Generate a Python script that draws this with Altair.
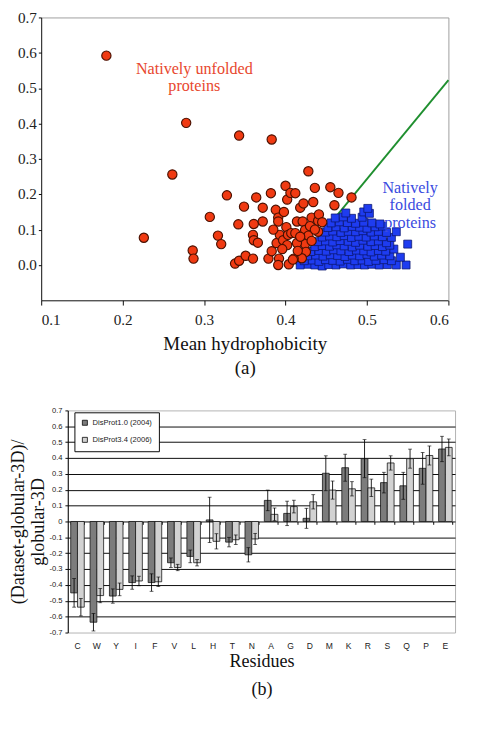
import altair as alt
import pandas as pd

# ---------------- panel (a) data ----------------
unf_x = [0.180, 0.278, 0.343, 0.383, 0.261, 0.428,
         0.226, 0.286, 0.287, 0.307, 0.328, 0.317, 0.321,
         0.342, 0.338, 0.343, 0.349, 0.351, 0.360, 0.364,
         0.361, 0.360, 0.361, 0.366, 0.372, 0.372, 0.379,
         0.382, 0.383, 0.388, 0.391, 0.391, 0.389, 0.392,
         0.391, 0.393, 0.397, 0.400, 0.402, 0.401, 0.403,
         0.402, 0.404, 0.406, 0.412, 0.407, 0.412, 0.414,
         0.418, 0.422, 0.421, 0.424, 0.428, 0.424, 0.425,
         0.420, 0.410, 0.434, 0.436, 0.432, 0.440, 0.441,
         0.445, 0.440, 0.455, 0.465, 0.460, 0.481, 0.432,
         0.414, 0.409, 0.396, 0.415, 0.418, 0.430, 0.385, 0.398, 0.436]
unf_y = [0.592, 0.402, 0.366, 0.355, 0.256, 0.265,
         0.077, 0.041, 0.018, 0.136, 0.197, 0.083, 0.059,
         0.115, 0.004, 0.012, 0.165, 0.026, 0.018, 0.191,
         0.116, 0.085, 0.070, 0.063, 0.162, 0.123, 0.018,
         0.203, 0.039, 0.156, 0.134, 0.123, 0.062, 0.018,
         0.000, 0.085, 0.070, 0.224, 0.185, 0.107, 0.085,
         0.056, 0.002, 0.204, 0.203, 0.090, 0.090, 0.123,
         0.162, 0.174, 0.123, 0.099, 0.083, 0.059, 0.037,
         0.019, 0.018, 0.178, 0.218, 0.134, 0.125, 0.143,
         0.121, 0.094, 0.220, 0.204, 0.169, 0.191, 0.068,
         0.062, 0.015, 0.045, 0.040, 0.080, 0.110, 0.100, 0.150, 0.100]

fold_x = [0.418, 0.428, 0.436, 0.445, 0.453, 0.462, 0.471, 0.480, 0.489, 0.497, 0.506, 0.515, 0.525, 0.536, 0.548,
          0.423, 0.433, 0.441, 0.449, 0.458, 0.467, 0.476, 0.485, 0.494, 0.502, 0.511, 0.521, 0.530, 0.541,
          0.427, 0.437, 0.446, 0.455, 0.464, 0.473, 0.482, 0.491, 0.500, 0.509, 0.518, 0.528,
          0.431, 0.441, 0.450, 0.459, 0.468, 0.478, 0.487, 0.496, 0.505, 0.514, 0.523, 0.533,
          0.436, 0.445, 0.454, 0.463, 0.472, 0.482, 0.491, 0.501, 0.510, 0.519, 0.528,
          0.440, 0.449, 0.458, 0.467, 0.477, 0.486, 0.495, 0.505, 0.514, 0.524, 0.550,
          0.445, 0.454, 0.463, 0.472, 0.481, 0.490, 0.499, 0.509, 0.519, 0.530,
          0.449, 0.458, 0.468, 0.477, 0.486, 0.495, 0.505, 0.514, 0.524, 0.536,
          0.452, 0.462, 0.472, 0.482, 0.491, 0.500, 0.510, 0.519,
          0.456, 0.466, 0.476, 0.486, 0.496, 0.506, 0.516,
          0.461, 0.471, 0.481, 0.494,
          0.474, 0.496, 0.503,
          0.501]
fold_y = [0.000, 0.002, 0.000, -0.003, 0.001, 0.000, 0.003, 0.000, 0.001, 0.000, 0.002, 0.000, 0.001, 0.000, 0.000,
          0.012, 0.014, 0.010, 0.015, 0.013, 0.011, 0.016, 0.012, 0.014, 0.010, 0.013, 0.015, 0.012, 0.022,
          0.026, 0.028, 0.025, 0.029, 0.027, 0.024, 0.028, 0.026, 0.030, 0.025, 0.028, 0.026,
          0.038, 0.041, 0.039, 0.043, 0.040, 0.038, 0.042, 0.040, 0.037, 0.041, 0.039, 0.045,
          0.052, 0.055, 0.053, 0.057, 0.054, 0.051, 0.056, 0.053, 0.055, 0.052, 0.056,
          0.066, 0.068, 0.065, 0.069, 0.067, 0.064, 0.070, 0.066, 0.068, 0.063, 0.059,
          0.079, 0.082, 0.080, 0.083, 0.078, 0.081, 0.079, 0.082, 0.080, 0.078,
          0.093, 0.096, 0.092, 0.095, 0.094, 0.097, 0.093, 0.095, 0.092, 0.094,
          0.106, 0.108, 0.105, 0.109, 0.107, 0.104, 0.108, 0.110,
          0.119, 0.122, 0.120, 0.118, 0.121, 0.119, 0.116,
          0.133, 0.136, 0.132, 0.135,
          0.147, 0.150, 0.146,
          0.160]

line_x = [0.413, 0.600]
line_y = [0.000, 0.523]

x_ticks_a = [0.1, 0.2, 0.3, 0.4, 0.5, 0.6]
y_ticks_a = [0.0, 0.1, 0.2, 0.3, 0.4, 0.5, 0.6, 0.7]

ann_text = ["Natively unfolded\nproteins", "Natively\nfolded\nproteins"]
ann_x = [0.288, 0.553]
ann_y = [0.553, 0.216]
ann_color = ["#e8472e", "#3a4be0"]

# ---------------- panel (b) data ----------------
residues = ["C", "W", "Y", "I", "F", "V", "L", "H", "T", "N",
            "A", "G", "D", "M", "K", "R", "S", "Q", "P", "E"]
series_names = ["DisProt1.0 (2004)", "DisProt3.4 (2006)"]
dp10 = [-0.45, -0.635, -0.47, -0.385, -0.385, -0.26, -0.22, 0.01, -0.13, -0.21,
        0.133, 0.051, 0.02, 0.304, 0.339, 0.396, 0.245, 0.225, 0.335, 0.457]
dp10_err = [0.09, 0.055, 0.045, 0.042, 0.055, 0.03, 0.04, 0.143, 0.03, 0.045,
            0.065, 0.077, 0.063, 0.11, 0.085, 0.12, 0.065, 0.085, 0.10, 0.08]
dp34 = [-0.54, -0.467, -0.428, -0.375, -0.38, -0.29, -0.26, -0.125, -0.115, -0.11,
        0.045, 0.094, 0.124, 0.198, 0.206, 0.212, 0.369, 0.396, 0.416, 0.467]
dp34_err = [0.055, 0.045, 0.04, 0.03, 0.03, 0.02, 0.02, 0.048, 0.03, 0.035,
            0.04, 0.04, 0.045, 0.057, 0.045, 0.055, 0.045, 0.06, 0.06, 0.053]
y_ticks_b = [-0.7, -0.6, -0.5, -0.4, -0.3, -0.2, -0.1, 0.0, 0.1, 0.2, 0.3, 0.4, 0.5, 0.6, 0.7]

# ---------------- tables ----------------
df_unf = pd.DataFrame({"x": unf_x, "y": unf_y})
df_fold = pd.DataFrame({"x": fold_x, "y": fold_y})
df_line = pd.DataFrame({"x": line_x, "y": line_y})
df_ann = pd.DataFrame({"x": ann_x, "y": ann_y, "t": ann_text, "c": ann_color})

rows = []
for i, r in enumerate(residues):
    rows.append({"res": r, "series": series_names[0], "v": dp10[i],
                 "lo": dp10[i] - dp10_err[i], "hi": dp10[i] + dp10_err[i]})
    rows.append({"res": r, "series": series_names[1], "v": dp34[i],
                 "lo": dp34[i] - dp34_err[i], "hi": dp34[i] + dp34_err[i]})
df_b = pd.DataFrame(rows)

SERIF = "Liberation Serif"
NARROW = "Liberation Sans Narrow, Liberation Sans, Arial"

# ---------------- panel (a) ----------------
# the panel's plot frame starts 28px left of the lower panel's frame
SHIFT = 28
W_A = 401
xs = alt.Scale(domain=[0.1, 0.6], nice=False, zero=False, range=[-SHIFT, W_A])
ys = alt.Scale(domain=[-0.1, 0.7], nice=False, zero=False)

ax_x = alt.Axis(values=x_ticks_a, tickCount=6, format=".1f", grid=False, domainColor="black",
                tickColor="black", tickSize=5, labelFont=SERIF, labelFontSize=16,
                labelColor="#222", labelPadding=7,
                title=["Mean hydrophobicity", "(a)"], titleFont=SERIF, titleFontSize=20,
                titleFontWeight="normal", titleColor="#111", titleLineHeight=25, titlePadding=8)
ax_y = alt.Axis(values=y_ticks_a, tickCount=8, format=".1f", grid=False, domainColor="black",
                tickColor="black", tickSize=3, labelFont=SERIF, labelFontSize=16,
                labelColor="#222", labelPadding=2, title=None, offset=SHIFT)
ax_top = alt.Axis(orient="top", labels=False, ticks=False, grid=False, domainColor="#9a9a9a",
                  title=None, minExtent=0, maxExtent=0)
ax_right = alt.Axis(orient="right", labels=False, ticks=False, grid=False, domainColor="#9a9a9a",
                    title=None, minExtent=0, maxExtent=0)

green = alt.Chart(df_line).mark_line(color="#1f8f2f", strokeWidth=2).encode(
    x=alt.X("x:Q", scale=xs, axis=ax_x), y=alt.Y("y:Q", scale=ys, axis=ax_y))
squares = alt.Chart(df_fold).mark_square(size=70, color="#1e3cf0", opacity=1,
                                         stroke="#0a1670", strokeWidth=0.8).encode(
    x=alt.X("x:Q", scale=xs, axis=ax_top), y=alt.Y("y:Q", scale=ys, axis=ax_right))
circles = alt.Chart(df_unf).mark_circle(size=95, color="#f03a12", opacity=1,
                                        stroke="#4a1000", strokeWidth=1.2).encode(
    x=alt.X("x:Q", scale=xs, axis=None), y=alt.Y("y:Q", scale=ys, axis=None))
labels_a = alt.Chart(df_ann).mark_text(font=SERIF, fontSize=17, lineBreak="\n",
                                       lineHeight=18, align="center", baseline="middle").encode(
    x=alt.X("x:Q", scale=xs, axis=None), y=alt.Y("y:Q", scale=ys, axis=None), text="t:N",
    color=alt.Color("c:N", scale=None))

top = alt.layer(green, squares, circles, labels_a).resolve_axis(
    x="independent", y="independent").properties(
    width=W_A, height=298, view=alt.ViewBackground(stroke=None))

# ---------------- panel (b) ----------------
xb = alt.Scale(domain=residues, paddingInner=0.3, paddingOuter=0.15)
yb = alt.Scale(domain=[-0.7, 0.7], nice=False, zero=False)
xo = alt.Scale(domain=series_names, paddingInner=0, paddingOuter=0)

lab_expr = "datum.value == 0 ? '0' : (datum.value < 0 ? '-' : '') + format(abs(datum.value), '.1f')"
ax_yb = alt.Axis(values=y_ticks_b, tickCount=15, labelOverlap=False, labelExpr=lab_expr, grid=True,
                 gridColor={"condition": {"test": "abs(datum.value) > 0.65", "value": "rgba(0,0,0,0)"},
                            "value": "black"},
                 gridWidth=1, domainColor="black", tickColor="black", tickSize=3,
                 labelFont=NARROW, labelFontSize=8, labelColor="#222", labelPadding=3,
                 title=["(Dataset-globular-3D)/", "globular-3D"], titleFont=SERIF,
                 titleFontSize=19, titleFontWeight="normal", titleColor="#111",
                 titleLineHeight=21, titlePadding=2)
ax_xb = alt.Axis(domain=False, ticks=False, labelAngle=0, labelFont="Liberation Sans",
                 labelFontSize=9, labelColor="#222", labelPadding=10, grid=False,
                 title=["Residues", "(b)"], titleFont=SERIF, titleFontSize=19,
                 titleFontWeight="normal", titleColor="#111", titleLineHeight=29, titlePadding=2)
ax_zero = alt.Axis(orient="bottom", offset=-117, labels=False, domain=False, ticks=True,
                   tickBand="extent", tickColor="black", tickSize=3, grid=False, title=None,
                   minExtent=0, maxExtent=0)

bars = alt.Chart(df_b).mark_bar(stroke="#111", strokeWidth=0.8).encode(
    x=alt.X("res:N", sort=residues, scale=xb, axis=ax_xb),
    xOffset=alt.XOffset("series:N", scale=xo, sort=series_names),
    y=alt.Y("v:Q", scale=yb, axis=ax_yb),
    color=alt.Color("series:N", sort=series_names,
                    scale=alt.Scale(domain=series_names, range=["#7c7c7c", "#d2d2d2"]),
                    legend=alt.Legend(orient="none", legendX=7, legendY=2, title=None,
                                      strokeColor="black", fillColor="white", padding=7,
                                      symbolType="square", symbolSize=28,
                                      symbolStrokeColor="black", symbolStrokeWidth=0.8,
                                      labelFont=NARROW, labelFontSize=8, labelColor="#222",
                                      rowPadding=8, labelOffset=4)))
rules = alt.Chart(df_b).mark_rule(color="black", strokeWidth=0.9).encode(
    x=alt.X("res:N", sort=residues, scale=xb, axis=ax_zero),
    xOffset=alt.XOffset("series:N", scale=xo, sort=series_names),
    y=alt.Y("lo:Q", scale=yb, axis=ax_yb), y2="hi:Q")
cap_lo = alt.Chart(df_b).mark_tick(color="black", thickness=0.9, size=4).encode(
    x=alt.X("res:N", sort=residues, scale=xb, axis=None),
    xOffset=alt.XOffset("series:N", scale=xo, sort=series_names),
    y=alt.Y("lo:Q", scale=yb, axis=ax_yb))
cap_hi = alt.Chart(df_b).mark_tick(color="black", thickness=0.9, size=4).encode(
    x=alt.X("res:N", sort=residues, scale=xb, axis=None),
    xOffset=alt.XOffset("series:N", scale=xo, sort=series_names),
    y=alt.Y("hi:Q", scale=yb, axis=ax_yb))

bottom = alt.layer(bars, rules, cap_lo, cap_hi).resolve_axis(x="independent").properties(
    width=408, height=234, view=alt.ViewBackground(stroke="#b0b0b0"))

chart = alt.concat(top, bottom, columns=1, spacing=30).resolve_scale(
    color="independent").resolve_legend(color="independent").properties(
    padding={"left": 0, "top": -17, "right": 0, "bottom": 0})

chart.save("out.html", embed_options={"renderer": "svg", "actions": False})
